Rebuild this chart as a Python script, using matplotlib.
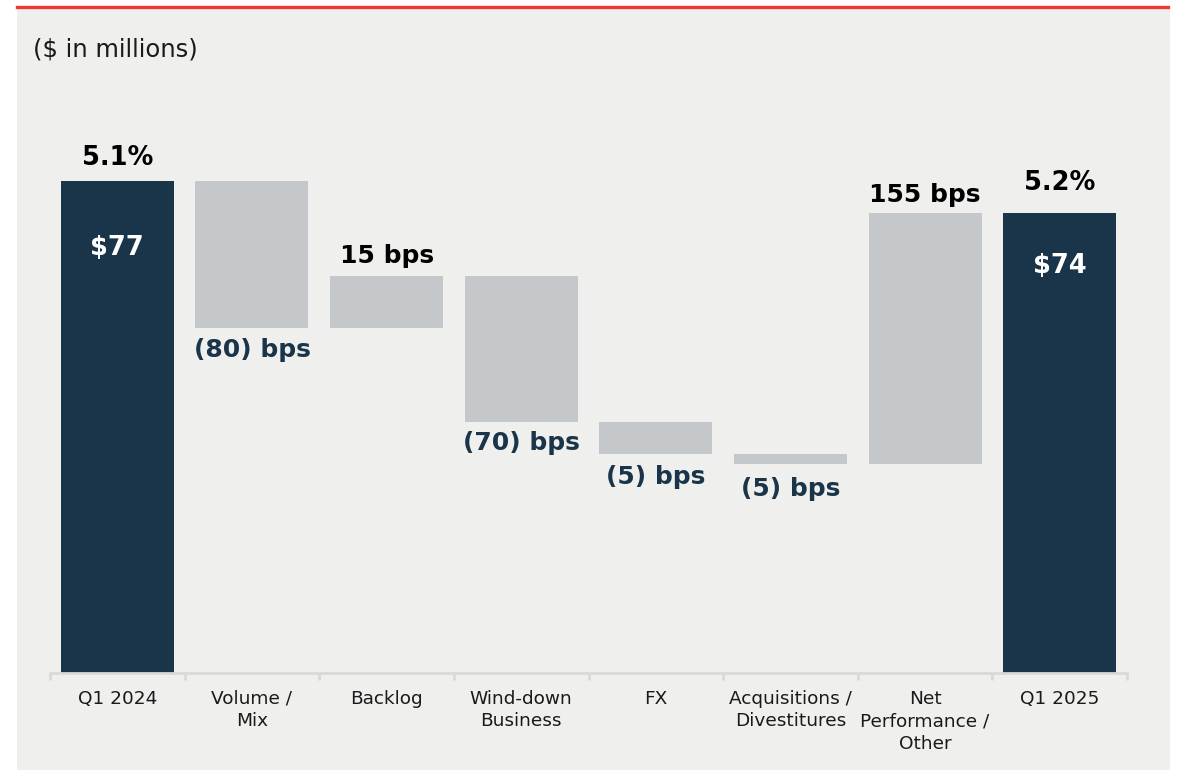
import matplotlib
matplotlib.use("Agg")
import matplotlib.pyplot as plt
from matplotlib.patches import Rectangle
from matplotlib.lines import Line2D

# ---- data ----
categories = ["Q1 2024", "Volume /\nMix", "Backlog", "Wind-down\nBusiness", "FX",
              "Acquisitions /\nDivestitures", "Net\nPerformance /\nOther", "Q1 2025"]
start_value = 77.0
end_value = 74.0
deltas = [-13.8, 4.9, -13.7, -3.0, -0.9, 23.5]
total_labels = ["$77", "$74"]
margin_labels = ["5.1%", "5.2%"]
delta_labels = ["(80) bps", "15 bps", "(70) bps", "(5) bps", "(5) bps", "155 bps"]

NAVY = "#1A3449"
GREY = "#C5C8CB"
BG = "#EFEFEE"
AXIS = "#D9D9D9"
RED = "#EE3A33"

W, H = 1179, 770
fig = plt.figure(figsize=(W / 100, H / 100), dpi=100)
fig.patch.set_facecolor("white")

# panel background and red rule
fig.patches.append(Rectangle((17 / W, 0), (1170 - 17) / W, 1 - 7 / H,
                             transform=fig.transFigure, facecolor=BG,
                             edgecolor="none", zorder=-5))
fig.lines.append(Line2D([17 / W, 1168 / W], [1 - 6.5 / H, 1 - 6.5 / H],
                        transform=fig.transFigure, color=RED, lw=2.4, zorder=-4))

fig.text(33 / W, 1 - 50 / H, "($ in millions)", fontsize=17.5, color="#1a1a1a",
         va="center", ha="left", family="DejaVu Sans")

ax = fig.add_axes([50 / W, 1 - 673 / H, (1127 - 50) / W, (673 - 100) / H])
ax.set_zorder(5)
ax.set_facecolor("none")

px_per_unit = (213 - 181) / (start_value - end_value)
ybottom = start_value - (673 - 181) / px_per_unit
ytop = ybottom + (673 - 100) / px_per_unit
ax.set_xlim(-0.5, 7.5)
ax.set_ylim(ybottom, ytop)

bw = 0.84
# totals
for i, (v, lab, mlab) in enumerate(zip([start_value, end_value], total_labels, margin_labels)):
    x = 0 if i == 0 else 7
    ax.bar(x, v - ybottom, bottom=ybottom, width=bw, color=NAVY, zorder=2)
    off_in = -67 if i == 0 else -53
    off_top = 23 if i == 0 else 30
    ax.annotate(lab, (x, v), xytext=(0, off_in * 0.72), textcoords="offset points",
                ha="center", va="center", fontsize=18.5, fontweight="bold", color="white")
    ax.annotate(mlab, (x, v), xytext=(0, off_top * 0.72), textcoords="offset points",
                ha="center", va="center", fontsize=18.5, fontweight="bold", color="black")

# deltas
level = start_value
below_off = [22, 0, 21, 23, 25, 0]
above_off = [0, 20, 0, 0, 0, 18]
for j, (d, lab) in enumerate(zip(deltas, delta_labels)):
    x = j + 1
    lo, hi = min(level, level + d), max(level, level + d)
    ax.bar(x, hi - lo, bottom=lo, width=bw, color=GREY, zorder=2)
    if d < 0:
        ax.annotate(lab, (x, lo), xytext=(0, -below_off[j] * 0.72), textcoords="offset points",
                    ha="center", va="center", fontsize=18, fontweight="bold", color=NAVY)
    else:
        ax.annotate(lab, (x, hi), xytext=(0, above_off[j] * 0.72), textcoords="offset points",
                    ha="center", va="center", fontsize=18, fontweight="bold", color="black")
    level += d

for s in ["top", "right", "left"]:
    ax.spines[s].set_visible(False)
ax.spines["bottom"].set_color(AXIS)
ax.spines["bottom"].set_linewidth(2)
ax.set_yticks([])
ax.set_xticks(range(len(categories)))
ax.set_xticklabels(categories, fontsize=13.3, color="#1a1a1a", linespacing=1.32)
ax.set_xticks([i - 0.5 for i in range(len(categories) + 1)], minor=True)
ax.tick_params(axis="x", which="major", length=0, pad=12)
ax.tick_params(axis="x", which="minor", length=5, width=2, color=AXIS, direction="out")

fig.savefig("out.png", dpi=100, facecolor=fig.get_facecolor())
